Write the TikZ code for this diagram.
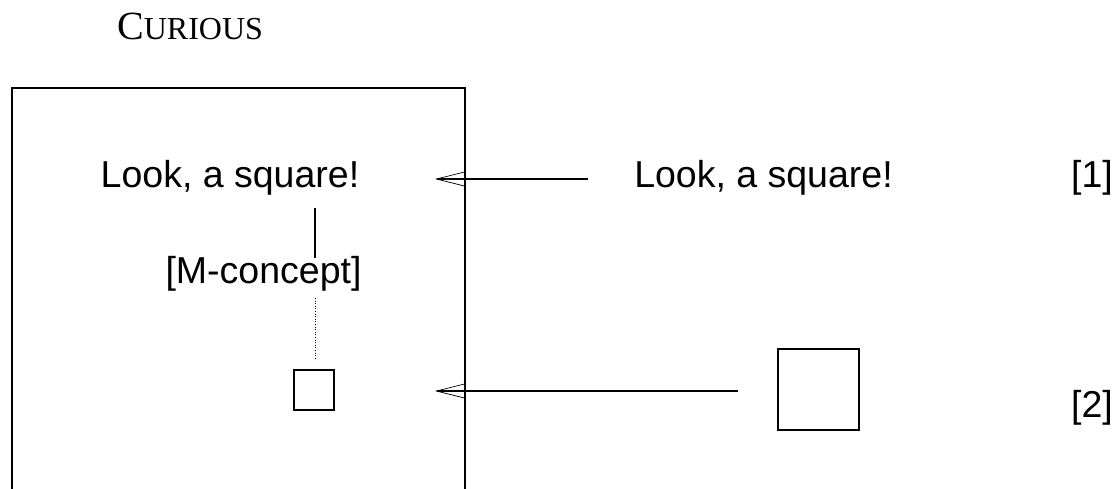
\documentclass[tikz,border=0pt]{standalone}
\usepackage{fontspec}
\setmainfont{Liberation Sans}
\newfontfamily\titlefont{Liberation Serif}
\usetikzlibrary{arrows.meta}
\begin{document}
\begin{tikzpicture}[x=1pt,y=-1pt,
  lbl/.style={inner sep=0pt,anchor=base,font=\fontsize{37.5}{41}\selectfont},
  frame/.style={line width=1.5pt},
  sq/.style={draw,line width=2pt,inner sep=0pt,minimum size=#1},
  feed/.style={line width=1.6pt,-{Straight Barb[length=28pt,width=14pt,line width=0.7pt]}},
  link/.style={line width=1.8pt},
  dotlink/.style={line width=0.6pt,dotted}]
\useasboundingbox (0,0) rectangle (1118,488);
% title in small capitals
\node[inner sep=0pt,anchor=base west] (title) at (117,39)
  {\titlefont\fontsize{40}{43}\selectfont C\fontsize{32}{35}\selectfont URIOUS};
% the enclosing box, open at the bottom
\draw[frame] (12,490) -- (12,88) -- (465,88) -- (465,490);
% inside the box
\node[lbl] (inner) at (230,187) {Look, a square!};
\node[lbl] (mc) at (263.5,283) {[M-concept]};
\node[sq=40pt] (small) at (313.5,390) {};
\coordinate (l1) at (315,208);
\coordinate (l2) at (315,258);
\coordinate (d1) at (315,298);
\coordinate (d2) at (315,358);
\draw[link] (l1) -- (l2);
\draw[dotlink] (d1) -- (d2);
% outside the box
\node[lbl] (outer) at (763.5,187) {Look, a square!};
\node[sq=81pt] (big) at (818.5,389.5) {};
\node[lbl] (n1) at (1092,187) {[1]};
\node[lbl] (n2) at (1092,417) {[2]};
\coordinate (a1s) at (588,179);
\coordinate (a1e) at (435,179);
\coordinate (a2s) at (738,391);
\coordinate (a2e) at (435,391);
\draw[feed] (a1s) -- (a1e);
\draw[feed] (a2s) -- (a2e);
\end{tikzpicture}
\end{document}
